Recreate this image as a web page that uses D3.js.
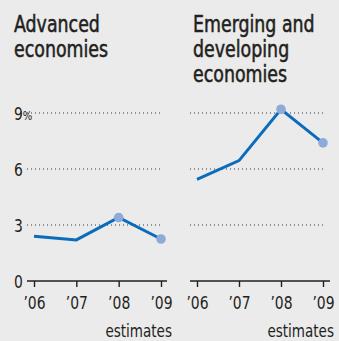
<!DOCTYPE html>
<html><head><meta charset="utf-8">
<script src="https://cdn.jsdelivr.net/npm/d3@7"></script>
<style>
html,body{margin:0;padding:0;background:#ebebeb;}
svg{display:block;}
text{font-family:"DejaVu Sans Condensed","Noto Sans",sans-serif;fill:#231f20;}
</style></head>
<body>
<script>
const years = ["\u201906","\u201907","\u201908","\u201909"];
const advanced = [2.4, 2.2, 3.4, 2.25];
const emerging = [5.45, 6.45, 9.2, 7.4];
const estimateFrom = 2; // index of first estimate year
const yTicks = [0, 3, 6, 9];
const titles = [["Advanced","economies"],["Emerging and","developing","economies"]];

const W = 339, H = 341;
const svg = d3.select("body").append("svg").attr("width", W).attr("height", H);
svg.append("rect").attr("width", W).attr("height", H).attr("fill", "#ebebeb");

const y = d3.scaleLinear().domain([0, 9]).range([281, 113]);
const SX = 0.86; // horizontal compression to mimic narrow typeface

const panels = [
  {data: advanced, title: titles[0], tx: 14, axisX: [27, 167], x0: 34, x1: 161, labels: true},
  {data: emerging, title: titles[1], tx: 193, axisX: [190, 330], x0: 197, x1: 323, labels: false}
];

function narrowText(parent, x, yy, size, anchor) {
  return parent.append("text")
    .attr("transform", `translate(${x},${yy}) scale(${SX},1)`)
    .attr("font-size", size).attr("text-anchor", anchor || "start");
}

panels.forEach(p => {
  const g = svg.append("g");
  const x = d3.scalePoint().domain(years).range([p.x0, p.x1]);
  // title
  p.title.forEach((line, i) => narrowText(g, p.tx, 32 + i * 25, 22.5)
    .attr("stroke", "#231f20").attr("stroke-width", 0.5).text(line));
  // gridlines
  yTicks.filter(v => v > 0).forEach(v => {
    g.append("line").attr("x1", p.axisX[0]).attr("x2", p.axisX[1] - 4)
      .attr("y1", y(v)).attr("y2", y(v))
      .attr("stroke", "#333").attr("stroke-width", 1).attr("stroke-dasharray", "1,3");
  });
  // y labels
  if (p.labels) {
    yTicks.forEach(v => {
      const lt = narrowText(g, 14, y(v) + 7, 18).text(v);
      if (v === 9) lt.append("tspan").attr("font-size", 13).text("%");
    });
  }
  // x axis
  const xa = d3.axisBottom(x).tickSize(6).tickPadding(4).tickSizeOuter(0);
  const ax = g.append("g").attr("transform", `translate(0,${y(0)})`).call(xa);
  ax.select(".domain").remove();
  ax.append("line").attr("x1", p.axisX[0]).attr("x2", p.axisX[1]).attr("y1", 0).attr("y2", 0)
    .attr("stroke", "#231f20").attr("stroke-width", 1.6);
  ax.selectAll(".tick line").attr("stroke", "#231f20").attr("stroke-width", 1.4);
  ax.selectAll(".tick text").attr("font-size", 18).attr("fill", "#231f20")
    .attr("font-family", "'DejaVu Sans Condensed',sans-serif")
    .attr("y", 28).attr("dy", 0).attr("x", 0)
    .attr("transform", `scale(${SX},1)`);
  narrowText(g, p.x1 + 11, 337, 17.5, "end").text("estimates");
  // line
  const line = d3.line().x((d, i) => x(years[i])).y(d => y(d));
  g.append("path").datum(p.data).attr("d", line).attr("fill", "none")
    .attr("stroke", "#0a6cbb").attr("stroke-width", 3).attr("stroke-linejoin", "miter");
  g.selectAll("circle.est").data(p.data.map((d, i) => ({d, i})).filter(o => o.i >= estimateFrom))
    .join("circle").attr("cx", o => x(years[o.i])).attr("cy", o => y(o.d)).attr("r", 4.8)
    .attr("fill", "#8eaadb");
});
</script>
</body></html>
